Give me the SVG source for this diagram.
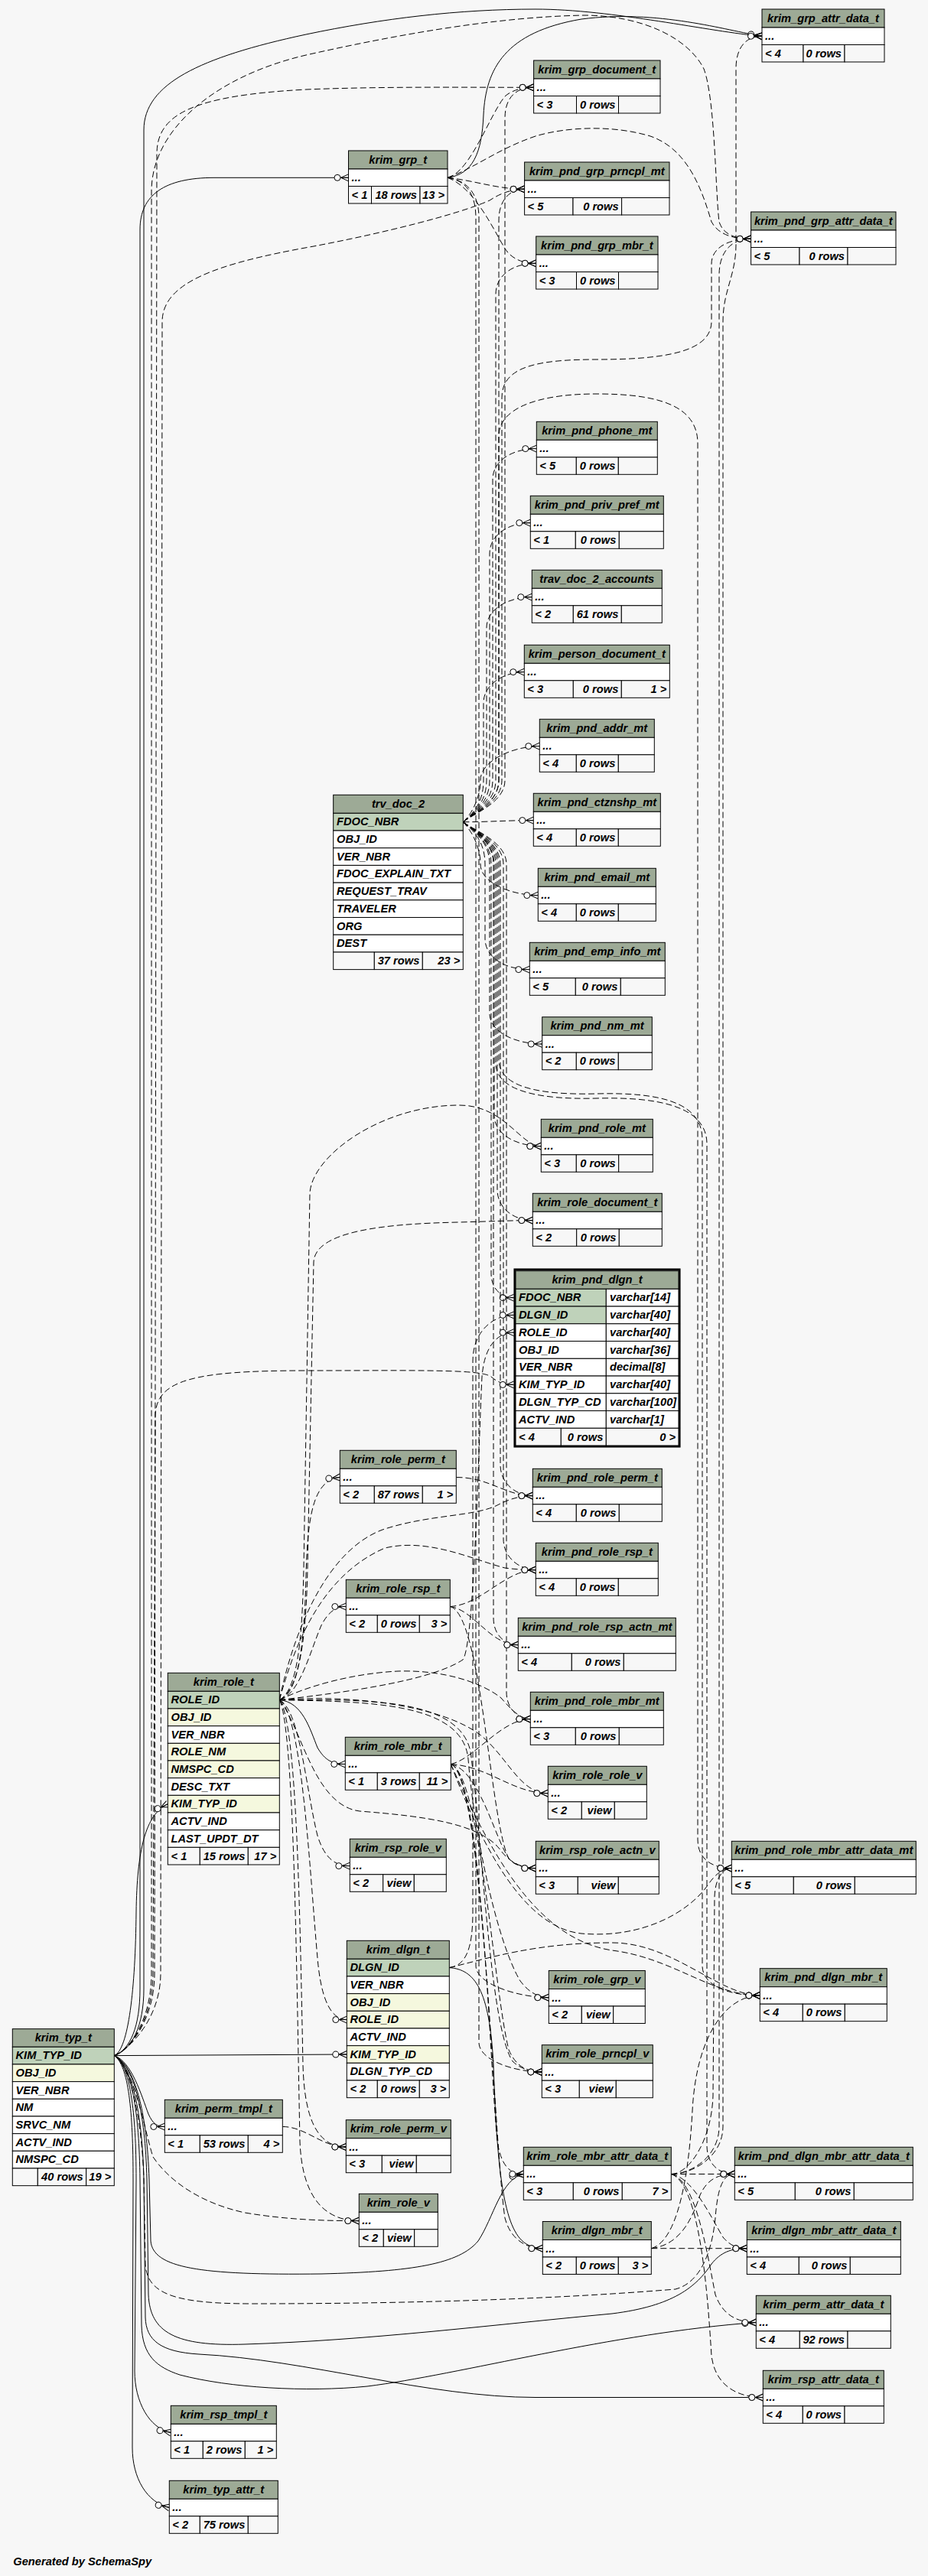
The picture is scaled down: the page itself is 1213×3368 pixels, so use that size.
<svg xmlns="http://www.w3.org/2000/svg" width="1213" height="3368" viewBox="0 0 1213 3368">
<style>
.h{fill:#9daa96;stroke:#000;stroke-width:1}
.w{fill:#fff;stroke:#000;stroke-width:1}
.f{fill:#f7f7f7;stroke:#000;stroke-width:1}
.pk{fill:#bfd2ba;stroke:#000;stroke-width:1}
.fk{fill:#f5f8de;stroke:#000;stroke-width:1}
text{font-family:"Liberation Sans",Arial,sans-serif;font-size:14.67px;font-weight:bold;font-style:italic;fill:#000}
.c{text-anchor:middle}
.r{text-anchor:end}
.e{fill:none;stroke:#000;stroke-width:1;marker-end:url(#cf)}
.d{stroke-dasharray:8,4}
</style>
<defs>
<marker id="cf" markerUnits="userSpaceOnUse" viewBox="0 0 20 12" markerWidth="20" markerHeight="12" refX="20" refY="6" orient="auto" overflow="visible">
<path d="M10,6 L20,1.5 M10,6 L20,6 M10,6 L20,10.5" fill="none" stroke="#000" stroke-width="1"/>
<circle cx="5.5" cy="6" r="4" fill="#fff" stroke="#000" stroke-width="1"/>
</marker>
</defs>
<rect x="0" y="0" width="1213" height="3368" fill="#f7f7f7"/>
<g id="connectors">
<path class="e" d="M149.3,2687.6 C170,2680 183,2650 183,2600 L183,300 C183,255 215,232.3 280,232.3 L455.5,232.3"/>
<path class="e" d="M149.3,2687.6 C172,2680 188,2650 188,2600 L188,170 C188,110 260,75 400,45 C500,24 600,12 700,12 C800,12 930,42 996,47.3"/>
<path class="e" d="M585,232.3 C618,228 630,200 632,150 C635,90 660,42 760,25 C860,12 950,40 996,47.3"/>
<path class="e" d="M149.3,2687.6 C168,2680 177,2600 178,2500 C179,2420 190,2372 219.3,2358.7"/>
<path class="e" d="M149.3,2687.6 L453.3,2686"/>
<path class="e" d="M149.3,2687.6 C172,2695 185,2740 194,2764 C200,2777 205,2780.5 215.3,2780.5"/>
<path class="e" d="M149.3,2687.6 C170,2700 178,2760 178,2850 L176,3100 C176,3140 195,3175 223.3,3180.5"/>
<path class="e" d="M149.3,2687.6 C168,2700 174,2760 174,2850 L173,3200 C173,3240 192,3272 221.3,3278.5"/>
<path class="e" d="M149.3,2687.6 C172,2700 182,2760 183,2850 L185,3040 C186,3080 205,3095 235,3105 C300,3122 400,3128 480,3120 C600,3105 800,3050 988.3,3036.5"/>
<path class="e" d="M149.3,2687.6 C172,2700 186,2760 188,2850 L190,3030 C191,3060 210,3075 260,3078 C400,3085 560,3134.5 700,3134.5 L997.3,3134.5"/>
<path class="e" d="M149.3,2687.6 C175,2700 190,2760 192,2850 L194,3000 C196,3050 230,3068 320,3065 C480,3060 640,3040 800,3025 C880,3015 910,2990 930,2960 C942,2945 955,2939.7 976.3,2939.7"/>
<path class="e" d="M149.3,2687.6 C176,2700 192,2760 195,2850 L197,2930 C200,2965 260,2975 420,2973 C540,2970 600,2960 625,2930 C645,2900 655,2848 684.3,2842.5"/>
<path class="e" d="M365.3,2222.6 C395,2225 405,2260 415,2285 C425,2302 435,2306.5 451.3,2306.5"/>
<path class="e" d="M587.3,2572.6 C620,2575 640,2600 645,2700 C650,2850 660,2920 690,2935 C698,2939 703,2939.7 709.3,2939.7"/>
<path class="e d" d="M605.3,1074.7 C618,1064 660,1050 660,1020 L660,155 C660,130 672,114.3 697.6,114.3"/>
<path class="e d" d="M605.3,1074.7 C618,1064 652,1050 652,1020 L652,288 C652,263 665,247.3 685.6,247.3"/>
<path class="e d" d="M605.3,1074.7 C618,1064 648,1050 648,1020 L648,385 C648,360 670,344.3 700.7,344.3"/>
<path class="e d" d="M605.3,1074.7 C618,1064 656,1050 656,1020 L656,520 C656,480 700,470 780,470 C870,470 930,460 930,420 L930,345 C930,325 950,312.3 981.6,312.3"/>
<path class="e d" d="M605.3,1074.7 C618,1064 644,1050 644,1020 L644,627 C644,602 670,586.6 701.3,586.6"/>
<path class="e d" d="M605.3,1074.7 C618,1064 640,1050 640,1020 L640,724 C640,699 665,683.6 693.3,683.6"/>
<path class="e d" d="M605.3,1074.7 C618,1064 636,1050 636,1020 L636,821 C636,796 665,780.6 695.3,780.6"/>
<path class="e d" d="M605.3,1074.7 C618,1064 632,1050 632,1020 L632,919 C632,894 660,878.6 685.3,878.6"/>
<path class="e d" d="M605.3,1074.7 C615,1066 628,1045 628,1020 C628,995 670,975.6 705.3,975.6"/>
<path class="e d" d="M605.3,1074.7 C640,1074.7 660,1072.6 697.3,1072.6"/>
<path class="e d" d="M605.3,1074.7 C615,1085 628,1105 628,1130 C628,1155 670,1170.6 703.3,1170.6"/>
<path class="e d" d="M605.3,1074.7 C618,1085 634,1100 634,1130 L634,1227 C634,1252 660,1267.6 692.3,1267.6"/>
<path class="e d" d="M605.3,1074.7 C618,1085 640,1100 640,1130 L640,1325 C640,1350 675,1365 708.7,1365"/>
<path class="e d" d="M605.3,1074.7 C618,1085 646,1100 646,1130 L646,1458 C646,1483 675,1498.6 707.3,1498.6"/>
<path class="e d" d="M605.3,1074.7 C618,1085 650,1100 650,1130 L650,1555 C650,1580 672,1595.6 696.3,1595.6"/>
<path class="e d" d="M605.3,1074.7 C618,1085 642,1100 642,1130 L642,1665 C642,1685 655,1696.7 671.7,1696.7"/>
<path class="e d" d="M605.3,1074.7 C618,1085 654,1100 654,1130 L654,1915 C654,1940 675,1955.6 696.3,1955.6"/>
<path class="e d" d="M605.3,1074.7 C618,1085 658,1100 658,1130 L658,2012 C658,2037 680,2052.6 700.3,2052.6"/>
<path class="e d" d="M605.3,1074.7 C618,1085 645,1100 645,1130 L645,2115 C645,2138 660,2150.6 677.3,2150.6"/>
<path class="e d" d="M605.3,1074.7 C618,1085 662,1100 662,1130 L662,2212 C662,2235 678,2247.6 693.3,2247.6"/>
<path class="e d" d="M605.3,1074.7 C618,1064 652,1050 652,1020 L652,570 C652,535 700,515 780,515 C860,515 912,530 912,580 L912,2405 C912,2430 930,2442.6 956.3,2442.6"/>
<path class="e d" d="M605.3,1074.7 C618,1085 652,1100 652,1130 L652,1385 C652,1420 700,1432 780,1430 C860,1428 918,1440 918,1490 L918,2570 C918,2595 950,2609 993.3,2609"/>
<path class="e d" d="M605.3,1074.7 C618,1085 648,1100 648,1130 L648,1390 C648,1425 700,1438 780,1436 C860,1434 924,1446 924,1496 L924,2805 C924,2830 940,2842.5 960.3,2842.5"/>
<path class="e d" d="M585,232.3 C615,225 640,150 660,126 C670,117 685,114.3 697.6,114.3"/>
<path class="e d" d="M585,232.3 C620,236 650,247.3 685.6,247.3"/>
<path class="e d" d="M585,232.3 C620,245 645,300 660,325 C670,340 685,344.3 700.7,344.3"/>
<path class="e d" d="M585,232.3 C620,220 650,195 700,178 C740,166 800,163 850,178 C900,195 918,250 930,290 C938,305 955,312.3 981.6,312.3"/>
<path class="e d" d="M585,232.3 C610,236 622,255 622,285 L622,2570 C622,2595 680,2611.7 717.3,2611.7"/>
<path class="e d" d="M585,232.3 C612,236 626,255 626,285 L626,2670 C626,2695 675,2709 708.3,2709"/>
<path class="e d" d="M877.3,2842.5 C905,2842.5 945,2820 945,2780 L945,420 C945,380 962,360 962,320 L962,90 C962,62 975,47.3 996,47.3"/>
<path class="e d" d="M877.3,2842.5 C903,2842.5 940,2820 940,2780 L940,360 C940,330 955,312.3 981.6,312.3"/>
<path class="e d" d="M877.3,2842.5 C900,2842.5 930,2800 932,2740 L934,2480 C935,2455 945,2442.6 956.3,2442.6"/>
<path class="e d" d="M877.3,2842.5 L960.3,2842.5"/>
<path class="e d" d="M877.3,2842.5 C905,2846 930,2900 945,2925 C955,2937 965,2939.7 976.3,2939.7"/>
<path class="e d" d="M877.3,2842.5 C910,2850 925,2950 935,3000 C945,3028 965,3036.5 988.3,3036.5"/>
<path class="e d" d="M877.3,2842.5 C915,2855 925,3000 930,3080 C935,3120 965,3134.5 997.3,3134.5"/>
<path class="e d" d="M851.3,2939.7 L976.3,2939.7"/>
<path class="e d" d="M851.3,2939.7 C890,2935 905,2900 915,2870 C925,2848 940,2842.5 960.3,2842.5"/>
<path class="e d" d="M851.3,2939.7 C885,2930 900,2850 905,2760 C910,2660 950,2609 993.3,2609"/>
<path class="e d" d="M589.3,2306.5 C620,2300 655,2247.6 693.3,2247.6"/>
<path class="e d" d="M589.3,2306.5 C640,2310 670,2344.6 716.3,2344.6"/>
<path class="e d" d="M589.3,2306.5 C630,2315 650,2420 670,2435 C680,2441 690,2442.6 700.3,2442.6"/>
<path class="e d" d="M589.3,2306.5 C628,2320 645,2600 665,2680 C675,2703 690,2709 708.3,2709"/>
<path class="e d" d="M589.3,2306.5 C630,2320 640,2700 650,2800 C655,2830 665,2842.5 684.3,2842.5"/>
<path class="e d" d="M589.3,2306.5 C625,2400 680,2520 760,2528 C840,2535 900,2500 925,2465 C935,2450 945,2442.6 956.3,2442.6"/>
<path class="e d" d="M589.3,2306.5 C640,2420 700,2535 800,2550 C880,2560 930,2609 993.3,2609"/>
<path class="e d" d="M589.3,2306.5 C632,2320 645,2800 660,2900 C668,2930 690,2939.7 709.3,2939.7"/>
<path class="e d" d="M596.3,1931.5 C640,1931.5 660,1955.6 696.3,1955.6"/>
<path class="e d" d="M588.3,2100.5 C630,2098 660,2052.6 700.3,2052.6"/>
<path class="e d" d="M588.3,2100.5 C620,2105 640,2150.6 677.3,2150.6"/>
<path class="e d" d="M588.3,2100.5 C630,2110 640,2380 665,2430 C675,2440 688,2442.6 700.3,2442.6"/>
<path class="e d" d="M587.3,2572.6 C610,2570 618,2545 618,2500 L618,1780 C618,1740 645,1719.4 671.7,1719.4"/>
<path class="e d" d="M587.3,2572.6 C640,2560 700,2540 800,2540 C880,2540 940,2609 993.3,2609"/>
<path class="e d" d="M369.3,2780.5 C400,2780.5 420,2807 452.3,2807"/>
<path class="e d" d="M365.3,2222.6 C390,2215 398,2150 400,2060 C402,1980 410,1935 444.3,1931.5"/>
<path class="e d" d="M365.3,2222.6 C392,2215 405,2160 420,2125 C430,2106 440,2100.5 452.3,2100.5"/>
<path class="e d" d="M365.3,2222.6 C392,2235 400,2340 415,2400 C425,2432 440,2439.6 457.3,2439.6"/>
<path class="e d" d="M365.3,2222.6 C395,2240 405,2450 415,2560 C420,2620 435,2640.6 453.3,2640.6"/>
<path class="e d" d="M365.3,2222.6 C388,2250 392,2500 396,2700 C398,2780 420,2807 452.3,2807"/>
<path class="e d" d="M365.3,2222.6 C385,2260 388,2600 392,2800 C395,2880 430,2903.6 469.3,2903.6"/>
<path class="e d" d="M365.3,2222.6 C388,2210 395,2150 397,2050 L405,1560 C408,1510 500,1445 600,1445 C660,1445 680,1498.6 707.3,1498.6"/>
<path class="e d" d="M365.3,2222.6 C390,2210 400,2150 402,2050 L410,1650 C412,1610 500,1600 600,1598 C640,1597 670,1595.6 696.3,1595.6"/>
<path class="e d" d="M365.3,2222.6 C430,2215 560,2200 605,2170 C620,2150 625,1900 630,1800 C633,1760 650,1742.2 671.7,1742.2"/>
<path class="e d" d="M365.3,2222.6 C380,2150 420,2030 500,2000 C560,1980 620,1983 650,1968 C665,1960 680,1955.6 696.3,1955.6"/>
<path class="e d" d="M365.3,2222.6 C385,2150 420,2060 503,2024 C560,2010 620,2040 660,2050 C675,2052 688,2052.6 700.3,2052.6"/>
<path class="e d" d="M365.3,2222.6 C400,2205 460,2188 520,2185 C580,2183 630,2200 655,2220 C668,2235 680,2247.6 693.3,2247.6"/>
<path class="e d" d="M365.3,2222.6 C460,2215 580,2230 630,2270 C665,2300 680,2344.6 716.3,2344.6"/>
<path class="e d" d="M365.3,2222.6 C480,2225 605,2225 612,2300 C620,2400 650,2540 680,2590 C692,2606 705,2611.7 717.3,2611.7"/>
<path class="e d" d="M365.3,2222.6 C480,2222 600,2220 615,2290 C630,2400 640,2650 670,2695 C680,2705 695,2709 708.3,2709"/>
<path class="e d" d="M365.3,2222.6 C395,2260 410,2360 470,2368 C560,2375 630,2385 655,2420 C668,2437 685,2442.6 700.3,2442.6"/>
<path class="e d" d="M149.3,2687.6 C170,2680 200,2640 200,2580 L203,1850 C205,1805 250,1792 400,1792 C550,1792 628,1790 642,1800 C650,1807 658,1810.4 671.7,1810.4"/>
<path class="e d" d="M149.3,2687.6 C170,2680 202,2640 202,2580 L205,200 C206,150 250,125 400,117 C500,113 600,114.3 697.6,114.3"/>
<path class="e d" d="M149.3,2687.6 C168,2680 210,2640 210,2580 L212,420 C213,370 280,345 410,322 C500,305 600,280 640,262 C655,252 670,247.3 685.6,247.3"/>
<path class="e d" d="M149.3,2687.6 C170,2680 198,2640 198,2580 L198,250 C198,170 280,100 400,72 C520,45 650,22 763,20 C840,20 900,50 920,90 C935,130 935,250 940,290 C945,306 960,312.3 981.6,312.3"/>
<path class="e d" d="M149.3,2687.6 C175,2700 190,2790 200,2820 C220,2850 260,2880 320,2893 C380,2903 430,2903.6 469.3,2903.6"/>
<path class="e d" d="M149.3,2687.6 C172,2700 186,2780 188,2850 L190,2960 C192,3000 230,3012 330,3012 C500,3012 700,3008 883,2993 C913,2985 930,2950 935,2900 C938,2860 945,2842.5 960.3,2842.5"/>
</g>
<g id="krim_grp_attr_data_t"><rect class="h" x="996" y="12" width="160" height="24"/><text class="c" x="1076" y="28.5">krim_grp_attr_data_t</text><rect class="w" x="996" y="36" width="160" height="22.5"/><text x="1000" y="52">...</text><rect class="f" x="996" y="58.5" width="54" height="22.5"/><rect class="f" x="1050" y="58.5" width="54" height="22.5"/><rect class="f" x="1104" y="58.5" width="52" height="22.5"/><text x="1000" y="75">&lt; 4</text><text class="r" x="1100" y="75">0 rows</text></g>
<g id="krim_grp_document_t"><rect class="h" x="697.6" y="79" width="165.4" height="24"/><text class="c" x="780.3" y="95.5">krim_grp_document_t</text><rect class="w" x="697.6" y="103" width="165.4" height="22.5"/><text x="701.6" y="119">...</text><rect class="f" x="697.6" y="125.5" width="55.9" height="22.5"/><rect class="f" x="753.5" y="125.5" width="55" height="22.5"/><rect class="f" x="808.5" y="125.5" width="54.5" height="22.5"/><text x="701.6" y="141.5">&lt; 3</text><text class="r" x="804.5" y="141.5">0 rows</text></g>
<g id="krim_grp_t"><rect class="h" x="455.5" y="197" width="129.5" height="24"/><text class="c" x="520.25" y="213.5">krim_grp_t</text><rect class="w" x="455.5" y="221" width="129.5" height="22.5"/><text x="459.5" y="237">...</text><rect class="f" x="455.5" y="243.5" width="30" height="22.5"/><rect class="f" x="485.5" y="243.5" width="63.5" height="22.5"/><rect class="f" x="549" y="243.5" width="36" height="22.5"/><text x="459.5" y="259.5">&lt; 1</text><text class="r" x="545" y="259.5">18 rows</text><text class="r" x="581" y="259.5">13 &gt;</text></g>
<g id="krim_pnd_grp_prncpl_mt"><rect class="h" x="685.6" y="212" width="189.4" height="24"/><text class="c" x="780.3" y="228.5">krim_pnd_grp_prncpl_mt</text><rect class="w" x="685.6" y="236" width="189.4" height="22.5"/><text x="689.6" y="252">...</text><rect class="f" x="685.6" y="258.5" width="63.4" height="22.5"/><rect class="f" x="749" y="258.5" width="63.6" height="22.5"/><rect class="f" x="812.6" y="258.5" width="62.4" height="22.5"/><text x="689.6" y="274.5">&lt; 5</text><text class="r" x="808.6" y="274.5">0 rows</text></g>
<g id="krim_pnd_grp_attr_data_t"><rect class="h" x="981.6" y="277" width="189.4" height="24"/><text class="c" x="1076.3" y="293.5">krim_pnd_grp_attr_data_t</text><rect class="w" x="981.6" y="301" width="189.4" height="22.5"/><text x="985.6" y="317">...</text><rect class="f" x="981.6" y="323.5" width="63.4" height="22.5"/><rect class="f" x="1045" y="323.5" width="63" height="22.5"/><rect class="f" x="1108" y="323.5" width="63" height="22.5"/><text x="985.6" y="339.5">&lt; 5</text><text class="r" x="1104" y="339.5">0 rows</text></g>
<g id="krim_pnd_grp_mbr_t"><rect class="h" x="700.7" y="309" width="159.3" height="24"/><text class="c" x="780.35" y="325.5">krim_pnd_grp_mbr_t</text><rect class="w" x="700.7" y="333" width="159.3" height="22.5"/><text x="704.7" y="349">...</text><rect class="f" x="700.7" y="355.5" width="52.8" height="22.5"/><rect class="f" x="753.5" y="355.5" width="55" height="22.5"/><rect class="f" x="808.5" y="355.5" width="51.5" height="22.5"/><text x="704.7" y="371.5">&lt; 3</text><text class="r" x="804.5" y="371.5">0 rows</text></g>
<g id="krim_pnd_phone_mt"><rect class="h" x="701.3" y="551.3" width="158" height="24"/><text class="c" x="780.3" y="567.8">krim_pnd_phone_mt</text><rect class="w" x="701.3" y="575.3" width="158" height="22.5"/><text x="705.3" y="591.3">...</text><rect class="f" x="701.3" y="597.8" width="52" height="22.5"/><rect class="f" x="753.3" y="597.8" width="55" height="22.5"/><rect class="f" x="808.3" y="597.8" width="51" height="22.5"/><text x="705.3" y="613.8">&lt; 5</text><text class="r" x="804.3" y="613.8">0 rows</text></g>
<g id="krim_pnd_priv_pref_mt"><rect class="h" x="693.3" y="648.3" width="174" height="24"/><text class="c" x="780.3" y="664.8">krim_pnd_priv_pref_mt</text><rect class="w" x="693.3" y="672.3" width="174" height="22.5"/><text x="697.3" y="688.3">...</text><rect class="f" x="693.3" y="694.8" width="59" height="22.5"/><rect class="f" x="752.3" y="694.8" width="57" height="22.5"/><rect class="f" x="809.3" y="694.8" width="58" height="22.5"/><text x="697.3" y="710.8">&lt; 1</text><text class="r" x="805.3" y="710.8">0 rows</text></g>
<g id="trav_doc_2_accounts"><rect class="h" x="695.3" y="745.3" width="170" height="24"/><text class="c" x="780.3" y="761.8">trav_doc_2_accounts</text><rect class="w" x="695.3" y="769.3" width="170" height="22.5"/><text x="699.3" y="785.3">...</text><rect class="f" x="695.3" y="791.8" width="54" height="22.5"/><rect class="f" x="749.3" y="791.8" width="63" height="22.5"/><rect class="f" x="812.3" y="791.8" width="53" height="22.5"/><text x="699.3" y="807.8">&lt; 2</text><text class="r" x="808.3" y="807.8">61 rows</text></g>
<g id="krim_person_document_t"><rect class="h" x="685.3" y="843.3" width="190" height="24"/><text class="c" x="780.3" y="859.8">krim_person_document_t</text><rect class="w" x="685.3" y="867.3" width="190" height="22.5"/><text x="689.3" y="883.3">...</text><rect class="f" x="685.3" y="889.8" width="64" height="22.5"/><rect class="f" x="749.3" y="889.8" width="63" height="22.5"/><rect class="f" x="812.3" y="889.8" width="63" height="22.5"/><text x="689.3" y="905.8">&lt; 3</text><text class="r" x="808.3" y="905.8">0 rows</text><text class="r" x="871.3" y="905.8">1 &gt;</text></g>
<g id="krim_pnd_addr_mt"><rect class="h" x="705.3" y="940.3" width="150" height="24"/><text class="c" x="780.3" y="956.8">krim_pnd_addr_mt</text><rect class="w" x="705.3" y="964.3" width="150" height="22.5"/><text x="709.3" y="980.3">...</text><rect class="f" x="705.3" y="986.8" width="48" height="22.5"/><rect class="f" x="753.3" y="986.8" width="55" height="22.5"/><rect class="f" x="808.3" y="986.8" width="47" height="22.5"/><text x="709.3" y="1002.8">&lt; 4</text><text class="r" x="804.3" y="1002.8">0 rows</text></g>
<g id="krim_pnd_ctznshp_mt"><rect class="h" x="697.3" y="1037.3" width="166" height="24"/><text class="c" x="780.3" y="1053.8">krim_pnd_ctznshp_mt</text><rect class="w" x="697.3" y="1061.3" width="166" height="22.5"/><text x="701.3" y="1077.3">...</text><rect class="f" x="697.3" y="1083.8" width="56" height="22.5"/><rect class="f" x="753.3" y="1083.8" width="55" height="22.5"/><rect class="f" x="808.3" y="1083.8" width="55" height="22.5"/><text x="701.3" y="1099.8">&lt; 4</text><text class="r" x="804.3" y="1099.8">0 rows</text></g>
<g id="krim_pnd_email_mt"><rect class="h" x="703.3" y="1135.3" width="154" height="24"/><text class="c" x="780.3" y="1151.8">krim_pnd_email_mt</text><rect class="w" x="703.3" y="1159.3" width="154" height="22.5"/><text x="707.3" y="1175.3">...</text><rect class="f" x="703.3" y="1181.8" width="50" height="22.5"/><rect class="f" x="753.3" y="1181.8" width="55" height="22.5"/><rect class="f" x="808.3" y="1181.8" width="49" height="22.5"/><text x="707.3" y="1197.8">&lt; 4</text><text class="r" x="804.3" y="1197.8">0 rows</text></g>
<g id="krim_pnd_emp_info_mt"><rect class="h" x="692.3" y="1232.3" width="177" height="24"/><text class="c" x="780.8" y="1248.8">krim_pnd_emp_info_mt</text><rect class="w" x="692.3" y="1256.3" width="177" height="22.5"/><text x="696.3" y="1272.3">...</text><rect class="f" x="692.3" y="1278.8" width="60" height="22.5"/><rect class="f" x="752.3" y="1278.8" width="59" height="22.5"/><rect class="f" x="811.3" y="1278.8" width="58" height="22.5"/><text x="696.3" y="1294.8">&lt; 5</text><text class="r" x="807.3" y="1294.8">0 rows</text></g>
<g id="krim_pnd_nm_mt"><rect class="h" x="708.7" y="1329.7" width="143.6" height="24"/><text class="c" x="780.5" y="1346.2">krim_pnd_nm_mt</text><rect class="w" x="708.7" y="1353.7" width="143.6" height="22.5"/><text x="712.7" y="1369.7">...</text><rect class="f" x="708.7" y="1376.2" width="44.6" height="22.5"/><rect class="f" x="753.3" y="1376.2" width="55" height="22.5"/><rect class="f" x="808.3" y="1376.2" width="44" height="22.5"/><text x="712.7" y="1392.2">&lt; 2</text><text class="r" x="804.3" y="1392.2">0 rows</text></g>
<g id="krim_pnd_role_mt"><rect class="h" x="707.3" y="1463.3" width="146" height="24"/><text class="c" x="780.3" y="1479.8">krim_pnd_role_mt</text><rect class="w" x="707.3" y="1487.3" width="146" height="22.5"/><text x="711.3" y="1503.3">...</text><rect class="f" x="707.3" y="1509.8" width="46" height="22.5"/><rect class="f" x="753.3" y="1509.8" width="55.4" height="22.5"/><rect class="f" x="808.7" y="1509.8" width="44.6" height="22.5"/><text x="711.3" y="1525.8">&lt; 3</text><text class="r" x="804.7" y="1525.8">0 rows</text></g>
<g id="krim_role_document_t"><rect class="h" x="696.3" y="1560.3" width="169" height="24"/><text class="c" x="780.8" y="1576.8">krim_role_document_t</text><rect class="w" x="696.3" y="1584.3" width="169" height="22.5"/><text x="700.3" y="1600.3">...</text><rect class="f" x="696.3" y="1606.8" width="57.4" height="22.5"/><rect class="f" x="753.7" y="1606.8" width="55.6" height="22.5"/><rect class="f" x="809.3" y="1606.8" width="56" height="22.5"/><text x="700.3" y="1622.8">&lt; 2</text><text class="r" x="805.3" y="1622.8">0 rows</text></g>
<g id="krim_pnd_dlgn_t">
<rect x="672.7" y="1659.7" width="215.6" height="231.6" fill="none" stroke="#000" stroke-width="2.5"/>
<rect class="h" x="674" y="1661.7" width="213" height="23.6"/><text class="c" x="780.5" y="1678">krim_pnd_dlgn_t</text>
<rect class="pk" x="674" y="1685.3" width="118.3" height="22.75"/><rect class="w" x="792.3" y="1685.3" width="94.7" height="22.75"/><text x="678" y="1701.3">FDOC_NBR</text><text x="797" y="1701.3">varchar[14]</text>
<rect class="pk" x="674" y="1708.05" width="118.3" height="22.75"/><rect class="w" x="792.3" y="1708.05" width="94.7" height="22.75"/><text x="678" y="1724.05">DLGN_ID</text><text x="797" y="1724.05">varchar[40]</text>
<rect class="w" x="674" y="1730.8" width="118.3" height="22.75"/><rect class="w" x="792.3" y="1730.8" width="94.7" height="22.75"/><text x="678" y="1746.8">ROLE_ID</text><text x="797" y="1746.8">varchar[40]</text>
<rect class="w" x="674" y="1753.55" width="118.3" height="22.75"/><rect class="w" x="792.3" y="1753.55" width="94.7" height="22.75"/><text x="678" y="1769.55">OBJ_ID</text><text x="797" y="1769.55">varchar[36]</text>
<rect class="w" x="674" y="1776.3" width="118.3" height="22.75"/><rect class="w" x="792.3" y="1776.3" width="94.7" height="22.75"/><text x="678" y="1792.3">VER_NBR</text><text x="797" y="1792.3">decimal[8]</text>
<rect class="w" x="674" y="1799.05" width="118.3" height="22.75"/><rect class="w" x="792.3" y="1799.05" width="94.7" height="22.75"/><text x="678" y="1815.05">KIM_TYP_ID</text><text x="797" y="1815.05">varchar[40]</text>
<rect class="w" x="674" y="1821.8" width="118.3" height="22.75"/><rect class="w" x="792.3" y="1821.8" width="94.7" height="22.75"/><text x="678" y="1837.8">DLGN_TYP_CD</text><text x="797" y="1837.8">varchar[100]</text>
<rect class="w" x="674" y="1844.55" width="118.3" height="22.75"/><rect class="w" x="792.3" y="1844.55" width="94.7" height="22.75"/><text x="678" y="1860.55">ACTV_IND</text><text x="797" y="1860.55">varchar[1]</text>
<rect class="f" x="674" y="1867.3" width="59.3" height="22.7"/><rect class="f" x="733.3" y="1867.3" width="59" height="22.7"/><rect class="f" x="792.3" y="1867.3" width="94.7" height="22.7"/><text x="678" y="1883.5">&lt; 4</text><text class="r" x="788.3" y="1883.5">0 rows</text><text class="r" x="883" y="1883.5">0 &gt;</text>
</g>
<g id="trv_doc_2">
<rect class="h" x="435.7" y="1039.3" width="169.6" height="24"/><text class="c" x="520.5" y="1055.8">trv_doc_2</text>
<rect class="pk" x="435.7" y="1063.3" width="169.6" height="22.7"/><text x="440" y="1079.3">FDOC_NBR</text>
<rect class="w" x="435.7" y="1086" width="169.6" height="22.7"/><text x="440" y="1102">OBJ_ID</text>
<rect class="w" x="435.7" y="1108.7" width="169.6" height="22.7"/><text x="440" y="1124.7">VER_NBR</text>
<rect class="w" x="435.7" y="1131.4" width="169.6" height="22.7"/><text x="440" y="1147.4">FDOC_EXPLAIN_TXT</text>
<rect class="w" x="435.7" y="1154.1" width="169.6" height="22.7"/><text x="440" y="1170.1">REQUEST_TRAV</text>
<rect class="w" x="435.7" y="1176.8" width="169.6" height="22.7"/><text x="440" y="1192.8">TRAVELER</text>
<rect class="w" x="435.7" y="1199.5" width="169.6" height="22.7"/><text x="440" y="1215.5">ORG</text>
<rect class="w" x="435.7" y="1222.2" width="169.6" height="22.7"/><text x="440" y="1238.2">DEST</text>
<rect class="f" x="435.7" y="1244.9" width="53.6" height="22.7"/><rect class="f" x="489.3" y="1244.9" width="63" height="22.7"/><rect class="f" x="552.3" y="1244.9" width="53" height="22.7"/><text class="r" x="548.3" y="1261">37 rows</text><text class="r" x="601.3" y="1261">23 &gt;</text>
</g>
<g id="krim_role_perm_t"><rect class="h" x="444.3" y="1896.3" width="152" height="24"/><text class="c" x="520.3" y="1912.8">krim_role_perm_t</text><rect class="w" x="444.3" y="1920.3" width="152" height="22.5"/><text x="448.3" y="1936.3">...</text><rect class="f" x="444.3" y="1942.8" width="45" height="22.5"/><rect class="f" x="489.3" y="1942.8" width="63" height="22.5"/><rect class="f" x="552.3" y="1942.8" width="44" height="22.5"/><text x="448.3" y="1958.8">&lt; 2</text><text class="r" x="548.3" y="1958.8">87 rows</text><text class="r" x="592.3" y="1958.8">1 &gt;</text></g>
<g id="krim_pnd_role_perm_t"><rect class="h" x="696.3" y="1920.3" width="169" height="24"/><text class="c" x="780.8" y="1936.8">krim_pnd_role_perm_t</text><rect class="w" x="696.3" y="1944.3" width="169" height="22.5"/><text x="700.3" y="1960.3">...</text><rect class="f" x="696.3" y="1966.8" width="57" height="22.5"/><rect class="f" x="753.3" y="1966.8" width="56" height="22.5"/><rect class="f" x="809.3" y="1966.8" width="56" height="22.5"/><text x="700.3" y="1982.8">&lt; 4</text><text class="r" x="805.3" y="1982.8">0 rows</text></g>
<g id="krim_pnd_role_rsp_t"><rect class="h" x="700.3" y="2017.3" width="160" height="24"/><text class="c" x="780.3" y="2033.8">krim_pnd_role_rsp_t</text><rect class="w" x="700.3" y="2041.3" width="160" height="22.5"/><text x="704.3" y="2057.3">...</text><rect class="f" x="700.3" y="2063.8" width="53" height="22.5"/><rect class="f" x="753.3" y="2063.8" width="55" height="22.5"/><rect class="f" x="808.3" y="2063.8" width="52" height="22.5"/><text x="704.3" y="2079.8">&lt; 4</text><text class="r" x="804.3" y="2079.8">0 rows</text></g>
<g id="krim_role_rsp_t"><rect class="h" x="452.3" y="2065.3" width="136" height="24"/><text class="c" x="520.3" y="2081.8">krim_role_rsp_t</text><rect class="w" x="452.3" y="2089.3" width="136" height="22.5"/><text x="456.3" y="2105.3">...</text><rect class="f" x="452.3" y="2111.8" width="41" height="22.5"/><rect class="f" x="493.3" y="2111.8" width="55" height="22.5"/><rect class="f" x="548.3" y="2111.8" width="40" height="22.5"/><text x="456.3" y="2127.8">&lt; 2</text><text class="r" x="544.3" y="2127.8">0 rows</text><text class="r" x="584.3" y="2127.8">3 &gt;</text></g>
<g id="krim_pnd_role_rsp_actn_mt"><rect class="h" x="677.3" y="2115.3" width="206" height="24"/><text class="c" x="780.3" y="2131.8">krim_pnd_role_rsp_actn_mt</text><rect class="w" x="677.3" y="2139.3" width="206" height="22.5"/><text x="681.3" y="2155.3">...</text><rect class="f" x="677.3" y="2161.8" width="70" height="22.5"/><rect class="f" x="747.3" y="2161.8" width="68" height="22.5"/><rect class="f" x="815.3" y="2161.8" width="68" height="22.5"/><text x="681.3" y="2177.8">&lt; 4</text><text class="r" x="811.3" y="2177.8">0 rows</text></g>
<g id="krim_pnd_role_mbr_mt"><rect class="h" x="693.3" y="2212.3" width="174" height="24"/><text class="c" x="780.3" y="2228.8">krim_pnd_role_mbr_mt</text><rect class="w" x="693.3" y="2236.3" width="174" height="22.5"/><text x="697.3" y="2252.3">...</text><rect class="f" x="693.3" y="2258.8" width="59" height="22.5"/><rect class="f" x="752.3" y="2258.8" width="57" height="22.5"/><rect class="f" x="809.3" y="2258.8" width="58" height="22.5"/><text x="697.3" y="2274.8">&lt; 3</text><text class="r" x="805.3" y="2274.8">0 rows</text></g>
<g id="krim_role_mbr_t"><rect class="h" x="451.3" y="2271.3" width="138" height="24"/><text class="c" x="520.3" y="2287.8">krim_role_mbr_t</text><rect class="w" x="451.3" y="2295.3" width="138" height="22.5"/><text x="455.3" y="2311.3">...</text><rect class="f" x="451.3" y="2317.8" width="42" height="22.5"/><rect class="f" x="493.3" y="2317.8" width="55" height="22.5"/><rect class="f" x="548.3" y="2317.8" width="41" height="22.5"/><text x="455.3" y="2333.8">&lt; 1</text><text class="r" x="544.3" y="2333.8">3 rows</text><text class="r" x="585.3" y="2333.8">11 &gt;</text></g>
<g id="krim_role_role_v"><rect class="h" x="716.3" y="2309.3" width="129" height="24"/><text class="c" x="780.8" y="2325.8">krim_role_role_v</text><rect class="w" x="716.3" y="2333.3" width="129" height="22.5"/><text x="720.3" y="2349.3">...</text><rect class="f" x="716.3" y="2355.8" width="44" height="22.5"/><rect class="f" x="760.3" y="2355.8" width="43" height="22.5"/><rect class="f" x="803.3" y="2355.8" width="42" height="22.5"/><text x="720.3" y="2371.8">&lt; 2</text><text class="r" x="799.3" y="2371.8">view</text></g>
<g id="krim_rsp_role_v"><rect class="h" x="457.3" y="2404.3" width="126" height="24"/><text class="c" x="520.3" y="2420.8">krim_rsp_role_v</text><rect class="w" x="457.3" y="2428.3" width="126" height="22.5"/><text x="461.3" y="2444.3">...</text><rect class="f" x="457.3" y="2450.8" width="43.4" height="22.5"/><rect class="f" x="500.7" y="2450.8" width="40.6" height="22.5"/><rect class="f" x="541.3" y="2450.8" width="42" height="22.5"/><text x="461.3" y="2466.8">&lt; 2</text><text class="r" x="537.3" y="2466.8">view</text></g>
<g id="krim_rsp_role_actn_v"><rect class="h" x="700.3" y="2407.3" width="161" height="24"/><text class="c" x="780.8" y="2423.8">krim_rsp_role_actn_v</text><rect class="w" x="700.3" y="2431.3" width="161" height="22.5"/><text x="704.3" y="2447.3">...</text><rect class="f" x="700.3" y="2453.8" width="55" height="22.5"/><rect class="f" x="755.3" y="2453.8" width="53" height="22.5"/><rect class="f" x="808.3" y="2453.8" width="53" height="22.5"/><text x="704.3" y="2469.8">&lt; 3</text><text class="r" x="804.3" y="2469.8">view</text></g>
<g id="krim_pnd_role_mbr_attr_data_mt"><rect class="h" x="956.3" y="2407.3" width="241" height="24"/><text class="c" x="1076.8" y="2423.8">krim_pnd_role_mbr_attr_data_mt</text><rect class="w" x="956.3" y="2431.3" width="241" height="22.5"/><text x="960.3" y="2447.3">...</text><rect class="f" x="956.3" y="2453.8" width="81" height="22.5"/><rect class="f" x="1037.3" y="2453.8" width="80" height="22.5"/><rect class="f" x="1117.3" y="2453.8" width="80" height="22.5"/><text x="960.3" y="2469.8">&lt; 5</text><text class="r" x="1113.3" y="2469.8">0 rows</text></g>
<g id="krim_role_t">
<rect class="h" x="219.3" y="2187.3" width="146" height="24"/><text class="c" x="292.3" y="2203.8">krim_role_t</text>
<rect class="pk" x="219.3" y="2211.3" width="146" height="22.67"/><text x="223.5" y="2227.3">ROLE_ID</text>
<rect class="fk" x="219.3" y="2233.97" width="146" height="22.67"/><text x="223.5" y="2249.97">OBJ_ID</text>
<rect class="w" x="219.3" y="2256.64" width="146" height="22.67"/><text x="223.5" y="2272.64">VER_NBR</text>
<rect class="fk" x="219.3" y="2279.31" width="146" height="22.67"/><text x="223.5" y="2295.31">ROLE_NM</text>
<rect class="fk" x="219.3" y="2301.98" width="146" height="22.67"/><text x="223.5" y="2317.98">NMSPC_CD</text>
<rect class="w" x="219.3" y="2324.65" width="146" height="22.67"/><text x="223.5" y="2340.65">DESC_TXT</text>
<rect class="fk" x="219.3" y="2347.32" width="146" height="22.67"/><text x="223.5" y="2363.32">KIM_TYP_ID</text>
<rect class="w" x="219.3" y="2369.99" width="146" height="22.67"/><text x="223.5" y="2385.99">ACTV_IND</text>
<rect class="w" x="219.3" y="2392.66" width="146" height="22.67"/><text x="223.5" y="2408.66">LAST_UPDT_DT</text>
<rect class="f" x="219.3" y="2415.33" width="42" height="22.67"/><rect class="f" x="261.3" y="2415.33" width="63" height="22.67"/><rect class="f" x="324.3" y="2415.33" width="41" height="22.67"/><text x="223.5" y="2431.5">&lt; 1</text><text class="r" x="320.3" y="2431.5">15 rows</text><text class="r" x="361.3" y="2431.5">17 &gt;</text>
</g>
<g id="krim_dlgn_t">
<rect class="h" x="453.3" y="2537.3" width="134" height="24"/><text class="c" x="520.3" y="2553.8">krim_dlgn_t</text>
<rect class="pk" x="453.3" y="2561.3" width="134" height="22.67"/><text x="457.5" y="2577.3">DLGN_ID</text>
<rect class="w" x="453.3" y="2583.97" width="134" height="22.67"/><text x="457.5" y="2599.97">VER_NBR</text>
<rect class="fk" x="453.3" y="2606.64" width="134" height="22.67"/><text x="457.5" y="2622.64">OBJ_ID</text>
<rect class="fk" x="453.3" y="2629.31" width="134" height="22.67"/><text x="457.5" y="2645.31">ROLE_ID</text>
<rect class="w" x="453.3" y="2651.98" width="134" height="22.67"/><text x="457.5" y="2667.98">ACTV_IND</text>
<rect class="fk" x="453.3" y="2674.65" width="134" height="22.67"/><text x="457.5" y="2690.65">KIM_TYP_ID</text>
<rect class="w" x="453.3" y="2697.32" width="134" height="22.67"/><text x="457.5" y="2713.32">DLGN_TYP_CD</text>
<rect class="f" x="453.3" y="2719.99" width="40" height="22.67"/><rect class="f" x="493.3" y="2719.99" width="55" height="22.67"/><rect class="f" x="548.3" y="2719.99" width="39" height="22.67"/><text x="457.5" y="2736.2">&lt; 2</text><text class="r" x="544.3" y="2736.2">0 rows</text><text class="r" x="583.3" y="2736.2">3 &gt;</text>
</g>
<g id="krim_role_grp_v"><rect class="h" x="717.3" y="2576.5" width="126" height="24"/><text class="c" x="780.3" y="2593">krim_role_grp_v</text><rect class="w" x="717.3" y="2600.5" width="126" height="22.5"/><text x="721.3" y="2616.5">...</text><rect class="f" x="717.3" y="2623" width="43" height="22.5"/><rect class="f" x="760.3" y="2623" width="41.4" height="22.5"/><rect class="f" x="801.7" y="2623" width="41.6" height="22.5"/><text x="721.3" y="2639">&lt; 2</text><text class="r" x="797.7" y="2639">view</text></g>
<g id="krim_pnd_dlgn_mbr_t"><rect class="h" x="993.3" y="2573.7" width="166" height="24"/><text class="c" x="1076.3" y="2590.2">krim_pnd_dlgn_mbr_t</text><rect class="w" x="993.3" y="2597.7" width="166" height="22.5"/><text x="997.3" y="2613.7">...</text><rect class="f" x="993.3" y="2620.2" width="56" height="22.5"/><rect class="f" x="1049.3" y="2620.2" width="55" height="22.5"/><rect class="f" x="1104.3" y="2620.2" width="55" height="22.5"/><text x="997.3" y="2636.2">&lt; 4</text><text class="r" x="1100.3" y="2636.2">0 rows</text></g>
<g id="krim_typ_t">
<rect class="h" x="16.3" y="2652.7" width="133" height="23.6"/><text class="c" x="82.8" y="2669.2">krim_typ_t</text>
<rect class="pk" x="16.3" y="2676.3" width="133" height="22.67"/><text x="20.5" y="2692.3">KIM_TYP_ID</text>
<rect class="fk" x="16.3" y="2698.97" width="133" height="22.67"/><text x="20.5" y="2714.97">OBJ_ID</text>
<rect class="w" x="16.3" y="2721.64" width="133" height="22.67"/><text x="20.5" y="2737.64">VER_NBR</text>
<rect class="w" x="16.3" y="2744.31" width="133" height="22.67"/><text x="20.5" y="2760.31">NM</text>
<rect class="w" x="16.3" y="2766.98" width="133" height="22.67"/><text x="20.5" y="2782.98">SRVC_NM</text>
<rect class="w" x="16.3" y="2789.65" width="133" height="22.67"/><text x="20.5" y="2805.65">ACTV_IND</text>
<rect class="w" x="16.3" y="2812.32" width="133" height="22.67"/><text x="20.5" y="2828.32">NMSPC_CD</text>
<rect class="f" x="16.3" y="2834.99" width="33" height="22.67"/><rect class="f" x="49.3" y="2834.99" width="63.4" height="22.67"/><rect class="f" x="112.7" y="2834.99" width="36.6" height="22.67"/><text class="r" x="108.7" y="2851.2">40 rows</text><text class="r" x="145.3" y="2851.2">19 &gt;</text>
</g>
<g id="krim_role_prncpl_v"><rect class="h" x="708.3" y="2673.7" width="145" height="24"/><text class="c" x="780.8" y="2690.2">krim_role_prncpl_v</text><rect class="w" x="708.3" y="2697.7" width="145" height="22.5"/><text x="712.3" y="2713.7">...</text><rect class="f" x="708.3" y="2720.2" width="49" height="22.5"/><rect class="f" x="757.3" y="2720.2" width="48" height="22.5"/><rect class="f" x="805.3" y="2720.2" width="48" height="22.5"/><text x="712.3" y="2736.2">&lt; 3</text><text class="r" x="801.3" y="2736.2">view</text></g>
<g id="krim_perm_tmpl_t"><rect class="h" x="215.3" y="2745.3" width="154" height="24"/><text class="c" x="292.3" y="2761.8">krim_perm_tmpl_t</text><rect class="w" x="215.3" y="2769.3" width="154" height="22.5"/><text x="219.3" y="2785.3">...</text><rect class="f" x="215.3" y="2791.8" width="46" height="22.5"/><rect class="f" x="261.3" y="2791.8" width="63" height="22.5"/><rect class="f" x="324.3" y="2791.8" width="45" height="22.5"/><text x="219.3" y="2807.8">&lt; 1</text><text class="r" x="320.3" y="2807.8">53 rows</text><text class="r" x="365.3" y="2807.8">4 &gt;</text></g>
<g id="krim_role_perm_v"><rect class="h" x="452.3" y="2771.7" width="137" height="24"/><text class="c" x="520.8" y="2788.2">krim_role_perm_v</text><rect class="w" x="452.3" y="2795.7" width="137" height="22.5"/><text x="456.3" y="2811.7">...</text><rect class="f" x="452.3" y="2818.2" width="47" height="22.5"/><rect class="f" x="499.3" y="2818.2" width="45" height="22.5"/><rect class="f" x="544.3" y="2818.2" width="45" height="22.5"/><text x="456.3" y="2834.2">&lt; 3</text><text class="r" x="540.3" y="2834.2">view</text></g>
<g id="krim_role_mbr_attr_data_t"><rect class="h" x="684.3" y="2807.3" width="193" height="24"/><text class="c" x="780.8" y="2823.8">krim_role_mbr_attr_data_t</text><rect class="w" x="684.3" y="2831.3" width="193" height="22.5"/><text x="688.3" y="2847.3">...</text><rect class="f" x="684.3" y="2853.8" width="65" height="22.5"/><rect class="f" x="749.3" y="2853.8" width="64" height="22.5"/><rect class="f" x="813.3" y="2853.8" width="64" height="22.5"/><text x="688.3" y="2869.8">&lt; 3</text><text class="r" x="809.3" y="2869.8">0 rows</text><text class="r" x="873.3" y="2869.8">7 &gt;</text></g>
<g id="krim_pnd_dlgn_mbr_attr_data_t"><rect class="h" x="960.3" y="2807.3" width="233" height="24"/><text class="c" x="1076.8" y="2823.8">krim_pnd_dlgn_mbr_attr_data_t</text><rect class="w" x="960.3" y="2831.3" width="233" height="22.5"/><text x="964.3" y="2847.3">...</text><rect class="f" x="960.3" y="2853.8" width="79" height="22.5"/><rect class="f" x="1039.3" y="2853.8" width="77" height="22.5"/><rect class="f" x="1116.3" y="2853.8" width="77" height="22.5"/><text x="964.3" y="2869.8">&lt; 5</text><text class="r" x="1112.3" y="2869.8">0 rows</text></g>
<g id="krim_role_v"><rect class="h" x="469.3" y="2868.3" width="103" height="24"/><text class="c" x="520.8" y="2884.8">krim_role_v</text><rect class="w" x="469.3" y="2892.3" width="103" height="22.5"/><text x="473.3" y="2908.3">...</text><rect class="f" x="469.3" y="2914.8" width="32" height="22.5"/><rect class="f" x="501.3" y="2914.8" width="40.4" height="22.5"/><rect class="f" x="541.7" y="2914.8" width="30.6" height="22.5"/><text x="473.3" y="2930.8">&lt; 2</text><text class="r" x="537.7" y="2930.8">view</text></g>
<g id="krim_dlgn_mbr_t"><rect class="h" x="709.3" y="2904.5" width="142" height="24"/><text class="c" x="780.3" y="2921">krim_dlgn_mbr_t</text><rect class="w" x="709.3" y="2928.5" width="142" height="22.5"/><text x="713.3" y="2944.5">...</text><rect class="f" x="709.3" y="2951" width="44" height="22.5"/><rect class="f" x="753.3" y="2951" width="55" height="22.5"/><rect class="f" x="808.3" y="2951" width="43" height="22.5"/><text x="713.3" y="2967">&lt; 2</text><text class="r" x="804.3" y="2967">0 rows</text><text class="r" x="847.3" y="2967">3 &gt;</text></g>
<g id="krim_dlgn_mbr_attr_data_t"><rect class="h" x="976.3" y="2904.5" width="201" height="24"/><text class="c" x="1076.8" y="2921">krim_dlgn_mbr_attr_data_t</text><rect class="w" x="976.3" y="2928.5" width="201" height="22.5"/><text x="980.3" y="2944.5">...</text><rect class="f" x="976.3" y="2951" width="68" height="22.5"/><rect class="f" x="1044.3" y="2951" width="67" height="22.5"/><rect class="f" x="1111.3" y="2951" width="66" height="22.5"/><text x="980.3" y="2967">&lt; 4</text><text class="r" x="1107.3" y="2967">0 rows</text></g>
<g id="krim_perm_attr_data_t"><rect class="h" x="988.3" y="3001.3" width="176" height="24"/><text class="c" x="1076.3" y="3017.8">krim_perm_attr_data_t</text><rect class="w" x="988.3" y="3025.3" width="176" height="22.5"/><text x="992.3" y="3041.3">...</text><rect class="f" x="988.3" y="3047.8" width="57" height="22.5"/><rect class="f" x="1045.3" y="3047.8" width="62.7" height="22.5"/><rect class="f" x="1108" y="3047.8" width="56.3" height="22.5"/><text x="992.3" y="3063.8">&lt; 4</text><text class="r" x="1104" y="3063.8">92 rows</text></g>
<g id="krim_rsp_attr_data_t"><rect class="h" x="997.3" y="3099.3" width="158" height="24"/><text class="c" x="1076.3" y="3115.8">krim_rsp_attr_data_t</text><rect class="w" x="997.3" y="3123.3" width="158" height="22.5"/><text x="1001.3" y="3139.3">...</text><rect class="f" x="997.3" y="3145.8" width="52" height="22.5"/><rect class="f" x="1049.3" y="3145.8" width="54.7" height="22.5"/><rect class="f" x="1104" y="3145.8" width="51.3" height="22.5"/><text x="1001.3" y="3161.8">&lt; 4</text><text class="r" x="1100" y="3161.8">0 rows</text></g>
<g id="krim_rsp_tmpl_t"><rect class="h" x="223.3" y="3145.3" width="138" height="24"/><text class="c" x="292.3" y="3161.8">krim_rsp_tmpl_t</text><rect class="w" x="223.3" y="3169.3" width="138" height="22.5"/><text x="227.3" y="3185.3">...</text><rect class="f" x="223.3" y="3191.8" width="42" height="22.5"/><rect class="f" x="265.3" y="3191.8" width="55" height="22.5"/><rect class="f" x="320.3" y="3191.8" width="41" height="22.5"/><text x="227.3" y="3207.8">&lt; 1</text><text class="r" x="316.3" y="3207.8">2 rows</text><text class="r" x="357.3" y="3207.8">1 &gt;</text></g>
<g id="krim_typ_attr_t"><rect class="h" x="221.3" y="3243.3" width="142" height="24"/><text class="c" x="292.3" y="3259.8">krim_typ_attr_t</text><rect class="w" x="221.3" y="3267.3" width="142" height="22.5"/><text x="225.3" y="3283.3">...</text><rect class="f" x="221.3" y="3289.8" width="40" height="22.5"/><rect class="f" x="261.3" y="3289.8" width="63" height="22.5"/><rect class="f" x="324.3" y="3289.8" width="39" height="22.5"/><text x="225.3" y="3305.8">&lt; 2</text><text class="r" x="320.3" y="3305.8">75 rows</text></g>
<text x="17.3" y="3354">Generated by SchemaSpy</text>
</svg>
